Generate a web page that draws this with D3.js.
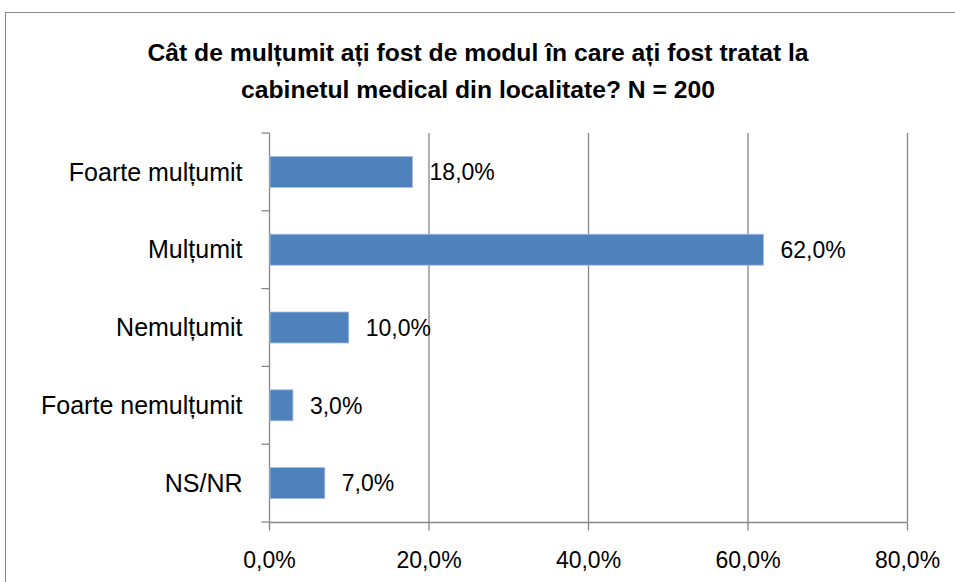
<!DOCTYPE html>
<html><head><meta charset="utf-8">
<script src="https://cdn.jsdelivr.net/npm/d3@7"></script>
<style>body{margin:0;background:#fff}svg{display:block}text{font-family:"Liberation Sans",Arial,sans-serif}</style>
</head><body><svg id="c" width="955" height="582"></svg>
<script>
const categories = ["Foarte mulțumit","Mulțumit","Nemulțumit","Foarte nemulțumit","NS/NR"];
const values = [18.0, 62.0, 10.0, 3.0, 7.0];
const xTicks = [0, 20, 40, 60, 80];
const titleLines = ["Cât de mulțumit ați fost de modul în care ați fost tratat la","cabinetul medical din localitate? N = 200"];

const svg = d3.select("#c");
svg.append("rect").attr("x",5.5).attr("y",12.5).attr("width",960).attr("height",600)
  .attr("fill","#fff").attr("stroke","#868686").attr("stroke-width",1);

const m = {left:269, right:907, top:133, bottom:522};
const x = d3.scaleLinear().domain([0,80]).range([m.left,m.right]);
const yb = d3.scaleBand().domain(categories).range([m.top,m.bottom]);

// gridlines
svg.append("g").selectAll("line").data(xTicks.slice(1)).join("line")
  .attr("x1",d=>x(d)+0.5).attr("x2",d=>x(d)+0.5).attr("y1",m.top).attr("y2",m.bottom)
  .attr("stroke","#868686").attr("stroke-width",1.3);

// x axis
const xa = svg.append("g").attr("transform",`translate(0,${m.bottom+0.5})`)
  .call(d3.axisBottom(x).tickValues(xTicks).tickSize(8).tickPadding(21).tickFormat(d=>d.toFixed(1).replace(".",",")+"%"));
xa.select(".domain").attr("stroke","#868686").attr("stroke-width",1.3).attr("d",`M${m.left},0H${m.right}`);
xa.selectAll(".tick line").attr("stroke","#868686").attr("stroke-width",1.3);
xa.selectAll(".tick text").attr("font-size",23).attr("fill","#000").attr("dy","0.71em");

// y axis with ticks at band boundaries
const ya = svg.append("g").attr("transform",`translate(${m.left+0.5},0)`);
ya.append("line").attr("y1",m.top).attr("y2",m.bottom).attr("stroke","#868686").attr("stroke-width",1.3);
const bounds = categories.map(c=>yb(c)).concat([m.bottom]);
ya.selectAll("line.t").data(bounds).join("line").attr("class","t")
  .attr("x1",-8).attr("x2",0).attr("y1",d=>d).attr("y2",d=>d).attr("stroke","#868686").attr("stroke-width",1.3);
ya.selectAll("text").data(categories).join("text")
  .attr("x",-27).attr("y",c=>yb(c)+yb.bandwidth()/2).attr("dy","0.35em")
  .attr("text-anchor","end").attr("font-size",25).attr("fill","#000").text(c=>c);

// bars
svg.append("g").selectAll("rect").data(categories).join("rect")
  .attr("x",x(0)+1).attr("y",c=>yb(c)+yb.bandwidth()/2-15.5)
  .attr("width",(c,i)=>x(values[i])-x(0)-1).attr("height",31)
  .attr("fill","#4F81BD").attr("stroke","#A7C0DE").attr("stroke-width",0.8);

// value labels
svg.append("g").selectAll("text").data(categories).join("text")
  .attr("x",(c,i)=>x(values[i])+17).attr("y",c=>yb(c)+yb.bandwidth()/2).attr("dy","0.36em")
  .attr("font-size",23).attr("fill","#000").text((c,i)=>values[i].toFixed(1).replace(".",",")+"%");

// title
svg.append("g").selectAll("text").data(titleLines).join("text")
  .attr("x",478).attr("y",(d,i)=>61+i*37).attr("text-anchor","middle")
  .attr("font-size",24.7).attr("font-weight","bold").attr("fill","#000").text(d=>d);
</script></body></html>
